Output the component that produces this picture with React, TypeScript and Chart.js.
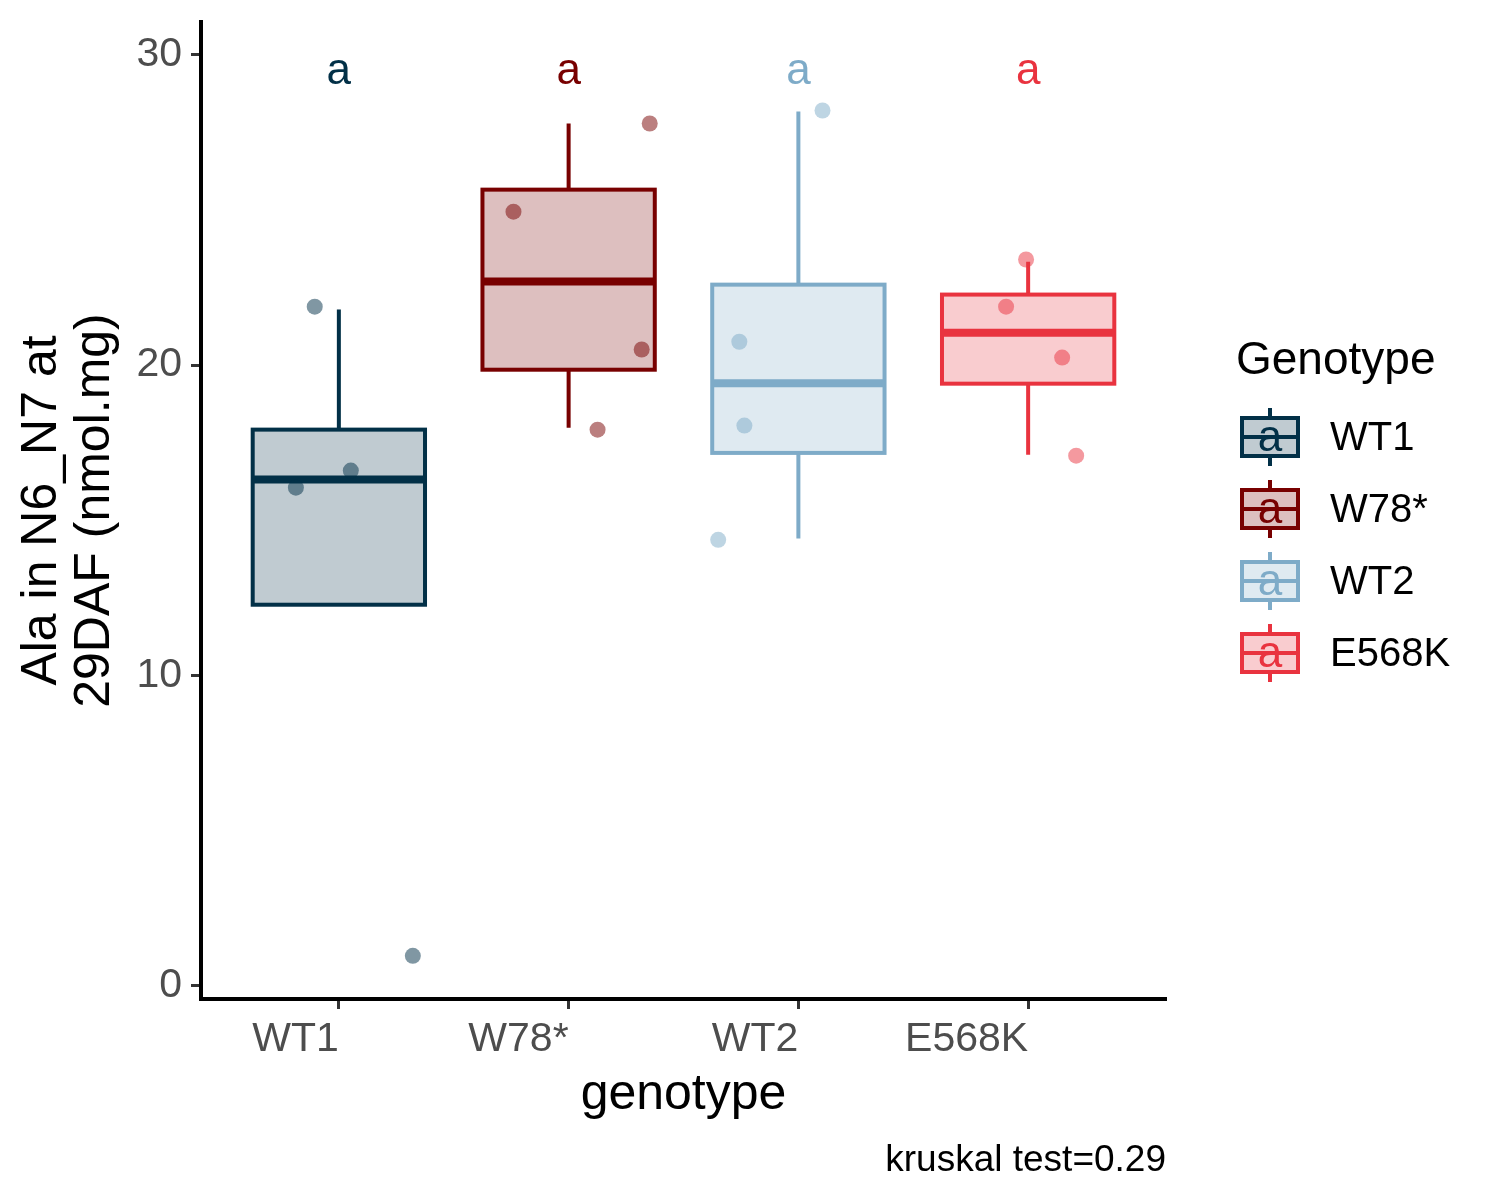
import { useEffect, useRef } from 'react'
import { Chart, registerables } from 'chart.js'

Chart.register(...registerables)

const FONT = "'Liberation Sans', Arial, sans-serif"

const genotypes = ['WT1', 'W78*', 'WT2', 'E568K']
const colors = ['#023047', '#780000', '#7EABC8', '#E9333F']
const letters = ['a', 'a', 'a', 'a']
const letterY = 29.45

// boxplot stats
const whiskerLow = [12.28, 17.98, 14.41, 17.11]
const q1 = [12.28, 19.85, 17.17, 19.4]
const medians = [16.31, 22.69, 19.41, 21.04]
const q3 = [17.92, 25.65, 22.59, 22.27]
const whiskerHigh = [21.79, 27.78, 28.17, 23.33]

// jittered raw points
const wt1Values = [21.88, 16.6, 16.05, 0.97]
const wt1Jitter = [-0.105, 0.052, -0.187, 0.322]
const w78Values = [24.94, 27.78, 20.5, 17.92]
const w78Jitter = [-0.24, 0.353, 0.318, 0.126]
const wt2Values = [28.2, 20.75, 18.05, 14.37]
const wt2Jitter = [0.105, -0.257, -0.235, -0.349]
const e568kValues = [23.4, 21.88, 20.24, 17.08]
const e568kJitter = [-0.009, -0.096, 0.148, 0.209]

const pointValues = [wt1Values, w78Values, wt2Values, e568kValues]
const pointJitter = [wt1Jitter, w78Jitter, wt2Jitter, e568kJitter]

const yTicks = [0, 10, 20, 30]
const caption = 'kruskal test=0.29'

function alpha(hex: string, a: number) {
  const n = parseInt(hex.slice(1), 16)
  return `rgba(${(n >> 16) & 255}, ${(n >> 8) & 255}, ${n & 255}, ${a})`
}

const boxWidth = 0.75

const boxPlugin = {
  id: 'ggBoxes',
  beforeDatasetsDraw(chart: any) {
    const { ctx, scales } = chart
    const x = scales.x
    const y = scales.y
    ctx.save()
    genotypes.forEach((_, i) => {
      const cx = x.getPixelForValue(i + 1)
      const left = x.getPixelForValue(i + 1 - boxWidth / 2)
      const right = x.getPixelForValue(i + 1 + boxWidth / 2)
      const yq1 = y.getPixelForValue(q1[i])
      const yq3 = y.getPixelForValue(q3[i])
      ctx.strokeStyle = colors[i]
      ctx.lineWidth = 4
      ctx.lineCap = 'butt'
      ctx.beginPath()
      ctx.moveTo(cx, y.getPixelForValue(whiskerHigh[i]))
      ctx.lineTo(cx, yq3)
      ctx.moveTo(cx, yq1)
      ctx.lineTo(cx, y.getPixelForValue(whiskerLow[i]))
      ctx.stroke()
      ctx.fillStyle = alpha(colors[i], 0.25)
      ctx.fillRect(left, yq3, right - left, yq1 - yq3)
      ctx.strokeRect(left, yq3, right - left, yq1 - yq3)
      ctx.lineWidth = 8
      const ym = y.getPixelForValue(medians[i])
      ctx.beginPath()
      ctx.moveTo(left, ym)
      ctx.lineTo(right, ym)
      ctx.stroke()
    })
    ctx.restore()
  },
  afterDraw(chart: any) {
    const { ctx, scales, chartArea } = chart
    const x = scales.x
    const y = scales.y
    ctx.save()
    // significance letters
    ctx.font = `44px ${FONT}`
    ctx.textAlign = 'center'
    ctx.textBaseline = 'middle'
    genotypes.forEach((_, i) => {
      ctx.fillStyle = colors[i]
      ctx.fillText(letters[i], x.getPixelForValue(i + 1), y.getPixelForValue(letterY))
    })

    // legend
    const lx = chartArea.right + 70
    ctx.textAlign = 'left'
    ctx.textBaseline = 'alphabetic'
    ctx.fillStyle = '#000'
    ctx.font = `46px ${FONT}`
    ctx.fillText('Genotype', lx, 374)
    genotypes.forEach((g, i) => {
      const cy = 437 + i * 72
      const kx = lx + 6
      const kw = 56
      const kcx = kx + kw / 2
      ctx.strokeStyle = colors[i]
      ctx.lineWidth = 4
      ctx.beginPath()
      ctx.moveTo(kcx, cy - 29)
      ctx.lineTo(kcx, cy - 19)
      ctx.moveTo(kcx, cy + 19)
      ctx.lineTo(kcx, cy + 29)
      ctx.stroke()
      ctx.fillStyle = alpha(colors[i], 0.25)
      ctx.fillRect(kx, cy - 19, kw, 38)
      ctx.strokeRect(kx, cy - 19, kw, 38)
      ctx.beginPath()
      ctx.moveTo(kx, cy)
      ctx.lineTo(kx + kw, cy)
      ctx.stroke()
      ctx.fillStyle = colors[i]
      ctx.font = `44px ${FONT}`
      ctx.textAlign = 'center'
      ctx.textBaseline = 'middle'
      ctx.fillText(letters[i], kcx, cy + 2)
      ctx.fillStyle = '#000'
      ctx.font = `40px ${FONT}`
      ctx.textAlign = 'left'
      ctx.fillText(g, lx + 94, cy + 2)
    })

    // caption
    ctx.font = `37px ${FONT}`
    ctx.textAlign = 'right'
    ctx.textBaseline = 'alphabetic'
    ctx.fillStyle = '#000'
    ctx.fillText(caption, chartArea.right, 1171)
    ctx.restore()
  },
}

export default function App() {
  const chartRef = useRef<HTMLCanvasElement>(null)
  const chartInstance = useRef<Chart | null>(null)

  useEffect(() => {
    document.body.style.margin = '0'
    if (!chartRef.current) return
    if (chartInstance.current) chartInstance.current.destroy()
    const ctx = chartRef.current.getContext('2d')
    if (!ctx) return

    const datasets = genotypes.map((g, i) => ({
      label: g,
      data: pointValues[i].map((v, j) => ({ x: i + 1 + pointJitter[i][j], y: v })),
      backgroundColor: alpha(colors[i], 0.5),
      borderWidth: 0,
      pointRadius: 8,
      pointHoverRadius: 8,
    }))

    chartInstance.current = new Chart(ctx, {
      type: 'scatter',
      data: { datasets },
      options: {
        responsive: false,
        animation: false,
        devicePixelRatio: 1,
        events: [],
        layout: { padding: { top: 22, right: 334, bottom: 0, left: 0 } },
        plugins: { legend: { display: false }, tooltip: { enabled: false } },
        scales: {
          x: {
            type: 'linear',
            min: 0.4,
            max: 4.6,
            afterBuildTicks: (axis: any) => {
              axis.ticks = genotypes.map((_, i) => ({ value: i + 1 }))
            },
            afterFit: (axis: any) => {
              axis.height = 201
              axis.paddingLeft = 0
              axis.paddingRight = 0
            },
            ticks: {
              callback: (v: any) => genotypes[Math.round(Number(v)) - 1] ?? '',
              color: '#4D4D4D',
              font: { size: 41, family: FONT },
              padding: 6,
              align: 'end',
              autoSkip: false,
              maxRotation: 0,
            },
            grid: {
              display: true,
              drawOnChartArea: false,
              drawTicks: true,
              tickLength: 10,
              tickWidth: 3,
              tickColor: '#333333',
            },
            border: { display: true, color: '#000000', width: 4 },
            title: {
              display: true,
              text: 'genotype',
              color: '#000000',
              font: { size: 50, family: FONT },
              padding: { top: 0, bottom: 75 },
            },
          },
          y: {
            type: 'linear',
            min: -0.42,
            max: 31.05,
            afterBuildTicks: (axis: any) => {
              axis.ticks = yTicks.map((v) => ({ value: v }))
            },
            afterFit: (axis: any) => {
              axis.width = 201
              axis.paddingTop = 0
              axis.paddingBottom = 0
            },
            ticks: {
              color: '#4D4D4D',
              font: { size: 41, family: FONT },
              padding: 9,
            },
            grid: {
              display: true,
              drawOnChartArea: false,
              drawTicks: true,
              tickLength: 10,
              tickWidth: 3,
              tickColor: '#333333',
            },
            border: { display: true, color: '#000000', width: 4 },
            title: {
              display: true,
              text: ['Ala in N6_N7 at', '29DAF (nmol.mg)'],
              color: '#000000',
              font: { size: 50, family: FONT, lineHeight: 1.06 },
              padding: { top: 16, bottom: 0 },
            },
          },
        },
      },
      plugins: [boxPlugin],
    } as any)

    return () => {
      if (chartInstance.current) {
        chartInstance.current.destroy()
        chartInstance.current = null
      }
    }
  }, [])

  return (
    <div style={{ width: 1500, height: 1200, background: '#fff' }}>
      <canvas ref={chartRef} width={1500} height={1200} style={{ display: 'block' }} />
    </div>
  )
}
